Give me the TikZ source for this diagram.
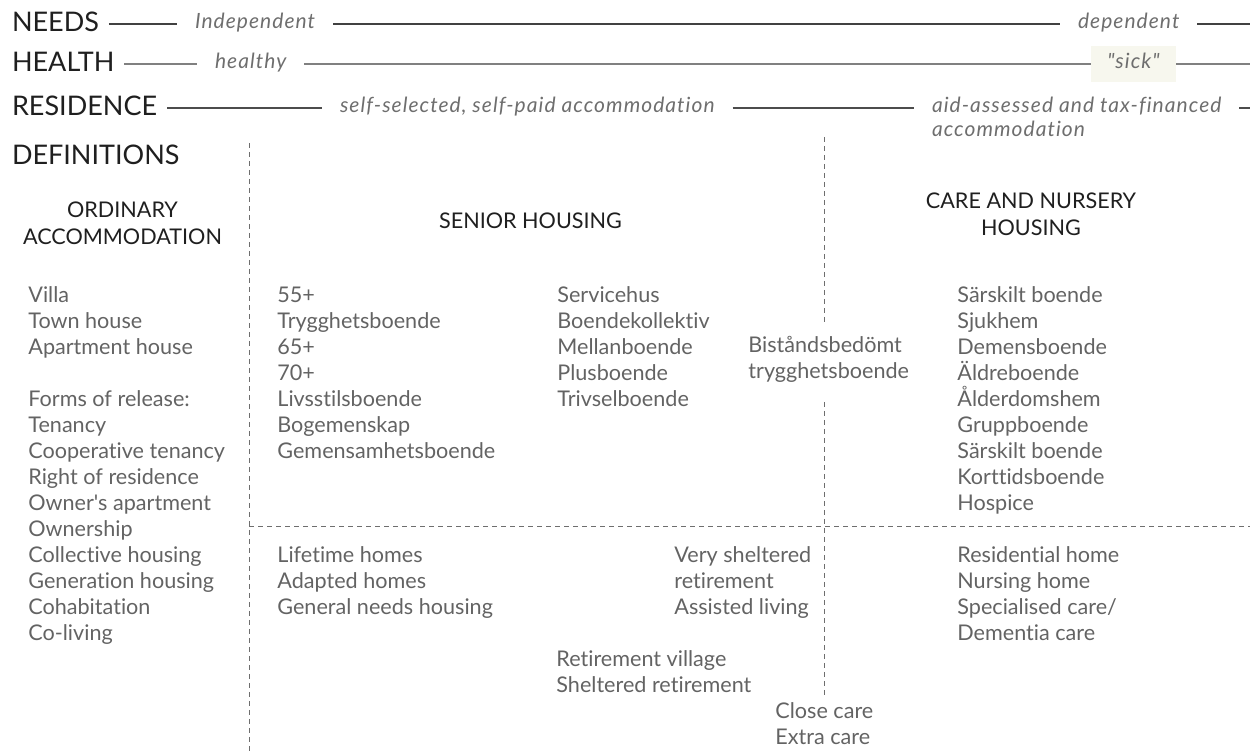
\documentclass[tikz,border=0pt]{standalone}
\usepackage{fontspec}
\setmainfont{Lato}[Ligatures={TeXOff,NoCommon}]
\definecolor{inkdark}{HTML}{1F1F1F}
\definecolor{inkgray}{HTML}{636363}
\definecolor{polegray}{HTML}{6E6E6E}
\definecolor{sickfill}{HTML}{F7F7EE}
\begin{document}
\begin{tikzpicture}[x=0.5pt,y=-0.5pt,
  rowhead/.style={anchor=west,inner sep=0pt,outer xsep=5pt,text height=0.72em,text depth=0pt,font=\fontsize{13.5}{16}\selectfont,text=inkdark},
  pole/.style={anchor=west,inner sep=0pt,outer xsep=9pt,text height=0.7em,text depth=0.2em,font=\fontsize{10.5}{12}\selectfont\itshape\addfontfeatures{LetterSpace=5},text=polegray},
  colhead/.style={anchor=north,inner sep=0pt,align=center,font=\fontsize{10.8}{13.5}\selectfont,text=inkdark},
  item/.style={anchor=base west,inner sep=0pt,font=\fontsize{10.8}{13}\selectfont,text=inkgray},
  divider/.style={draw=polegray,line width=0.5pt,dash pattern=on 2.5pt off 2pt}]
\useasboundingbox (0,0) rectangle (1250,753);
\node[rowhead] (needs) at (2,24) {NEEDS};
\node[pole] (indep) at (177,24) {Independent};
\node[pole] (dep) at (1060,24) {dependent};
\coordinate (needsend) at (1250,24);
\draw[inkdark!85,line width=0.55pt] (needs) -- (indep);
\draw[inkdark!85,line width=0.55pt] (indep) -- (dep);
\draw[inkdark!85,line width=0.55pt] (dep) -- (needsend);
\node[rowhead] (health) at (2,64) {HEALTH};
\node[pole] (healthy) at (197,64) {healthy};
\node[pole,anchor=center,fill=sickfill,outer sep=0pt,minimum width=42.5pt,minimum height=18pt] (sick) at (1133.5,64) {"sick"};
\coordinate (healthend) at (1250,64);
\draw[gray,line width=0.8pt] (health) -- (healthy);
\draw[gray,line width=0.8pt] (healthy) -- (sick);
\draw[gray,line width=0.8pt] (sick) -- (healthend);
\node[rowhead] (residence) at (2,108) {RESIDENCE};
\node[pole] (selfpaid) at (322,108) {self-selected, self-paid accommodation};
\node[pole] (aid) at (914,108) {aid-assessed and tax-financed};
\node[pole,anchor=base west] (aidb) at (914,137) {accommodation};
\coordinate (resend) at (1250,108);
\draw[inkdark!80,line width=0.55pt] (residence) -- (selfpaid);
\draw[inkdark!80,line width=0.55pt] (selfpaid) -- (aid);
\draw[inkdark!80,line width=0.55pt] (aid) -- (resend);
\node[rowhead] (defs) at (2,157) {DEFINITIONS};
\node[colhead] (ordinary) at (122.5,201) {ORDINARY\\ACCOMMODATION};
\node[colhead] (senior) at (530.5,212) {SENIOR HOUSING};
\node[colhead] (care) at (1031,192) {CARE AND NURSERY\\HOUSING};
\coordinate (lefttop) at (249,143);
\coordinate (leftbot) at (249,753);
\coordinate (midtop) at (824,137);
\coordinate (midcut) at (824,322);
\coordinate (midresume) at (824,402);
\coordinate (midbot) at (824,695);
\coordinate (rowleft) at (249,527);
\coordinate (rowright) at (1250,527);
\draw[divider] (lefttop) -- (leftbot);
\draw[divider] (midtop) -- (midcut);
\draw[divider] (midresume) -- (midbot);
\draw[divider] (rowleft) -- (rowright);
\foreach \txt [count=\i from 0] in {Villa,Town house,Apartment house}
  \node[item] (ord\i) at (28,{303+26*\i}) {\txt};
\foreach \txt [count=\i from 4] in {Forms of release:,Tenancy,Cooperative tenancy,Right of residence,Owner's apartment,Ownership,Collective housing,Generation housing,Cohabitation,Co-living}
  \node[item] (ord\i) at (28,{303+26*\i}) {\txt};
\foreach \txt [count=\i from 0] in {55+,Trygghetsboende,65+,70+,Livsstilsboende,Bogemenskap,Gemensamhetsboende}
  \node[item] (sen\i) at (277,{303+26*\i}) {\txt};
\foreach \txt [count=\i from 0] in {Servicehus,Boendekollektiv,Mellanboende,Plusboende,Trivselboende}
  \node[item] (svc\i) at (557,{303+26*\i}) {\txt};
\foreach \txt [count=\i from 0] in {Biståndsbedömt,trygghetsboende}
  \node[item] (bist\i) at (748,{353+26*\i}) {\txt};
\foreach \txt [count=\i from 0] in {Särskilt boende,Sjukhem,Demensboende,Äldreboende,Ålderdomshem,Gruppboende,Särskilt boende,Korttidsboende,Hospice}
  \node[item] (carei\i) at (957,{303+26*\i}) {\txt};
\foreach \txt [count=\i from 0] in {Lifetime homes,Adapted homes,General needs housing}
  \node[item] (life\i) at (277,{563+26*\i}) {\txt};
\foreach \txt [count=\i from 0] in {Very sheltered,retirement,Assisted living}
  \node[item] (vsh\i) at (674,{563+26*\i}) {\txt};
\foreach \txt [count=\i from 0] in {Retirement village,Sheltered retirement}
  \node[item] (ret\i) at (556,{667+26*\i}) {\txt};
\foreach \txt [count=\i from 0] in {Close care,Extra care}
  \node[item] (close\i) at (775,{719+26*\i}) {\txt};
\foreach \txt [count=\i from 0] in {Residential home,Nursing home,Specialised care/,Dementia care}
  \node[item] (resi\i) at (957,{563+26*\i}) {\txt};
\end{tikzpicture}
\end{document}
